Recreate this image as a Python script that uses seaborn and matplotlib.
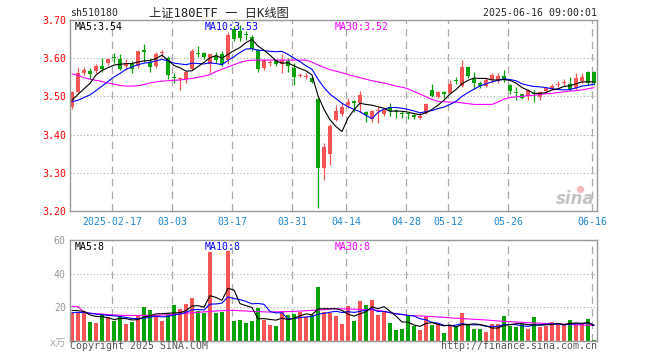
import numpy as np
import pandas as pd
import seaborn as sns
import matplotlib
matplotlib.use("Agg")
import matplotlib.pyplot as plt

# 510180 daily K, 2025-02-06 .. 2025-06-16
opens = [3.473, 3.511, 3.562, 3.566, 3.566, 3.580, 3.587, 3.603, 3.597, 3.580,
         3.586, 3.580, 3.622, 3.589, 3.580, 3.613, 3.600, 3.549, 3.546, 3.545,
         3.571, 3.612, 3.613, 3.585, 3.606, 3.611, 3.595, 3.676, 3.670, 3.662,
         3.655, 3.621, 3.574, 3.587, 3.594, 3.585, 3.593, 3.575, 3.554, 3.552,
         3.547, 3.493, 3.312, 3.350, 3.438, 3.455, 3.477, 3.488, 3.482, 3.460,
         3.440, 3.461, 3.455, 3.473, 3.461, 3.457, 3.456, 3.451, 3.443, 3.456,
         3.517, 3.498, 3.511, 3.510, 3.542, 3.527, 3.578, 3.545, 3.535, 3.528,
         3.543, 3.540, 3.554, 3.530, 3.511, 3.505, 3.502, 3.507, 3.499, 3.514,
         3.519, 3.531, 3.535, 3.532, 3.521, 3.540, 3.565, 3.565]
highs = [3.515, 3.578, 3.578, 3.574, 3.585, 3.600, 3.600, 3.613, 3.612, 3.597,
         3.592, 3.622, 3.637, 3.600, 3.615, 3.621, 3.606, 3.560, 3.552, 3.566,
         3.624, 3.632, 3.615, 3.612, 3.617, 3.620, 3.669, 3.684, 3.687, 3.670,
         3.660, 3.625, 3.598, 3.596, 3.598, 3.611, 3.600, 3.587, 3.562, 3.560,
         3.550, 3.495, 3.378, 3.428, 3.478, 3.482, 3.495, 3.490, 3.515, 3.462,
         3.464, 3.473, 3.470, 3.482, 3.466, 3.462, 3.460, 3.455, 3.458, 3.482,
         3.532, 3.515, 3.514, 3.543, 3.552, 3.595, 3.580, 3.565, 3.540, 3.548,
         3.560, 3.560, 3.570, 3.532, 3.525, 3.507, 3.520, 3.517, 3.515, 3.525,
         3.532, 3.540, 3.545, 3.550, 3.560, 3.560, 3.567, 3.567]
lows = [3.466, 3.508, 3.556, 3.546, 3.560, 3.563, 3.583, 3.587, 3.568, 3.569,
        3.560, 3.575, 3.591, 3.565, 3.575, 3.604, 3.546, 3.535, 3.517, 3.536,
        3.568, 3.603, 3.598, 3.560, 3.588, 3.580, 3.585, 3.645, 3.645, 3.648,
        3.620, 3.565, 3.570, 3.579, 3.580, 3.562, 3.565, 3.530, 3.550, 3.545,
        3.535, 3.207, 3.281, 3.320, 3.436, 3.450, 3.470, 3.460, 3.460, 3.434,
        3.432, 3.431, 3.450, 3.449, 3.444, 3.444, 3.440, 3.440, 3.440, 3.453,
        3.498, 3.495, 3.495, 3.508, 3.532, 3.524, 3.548, 3.520, 3.522, 3.525,
        3.535, 3.535, 3.538, 3.505, 3.491, 3.492, 3.490, 3.486, 3.490, 3.511,
        3.517, 3.525, 3.528, 3.515, 3.518, 3.536, 3.530, 3.530]
closes = [3.511, 3.560, 3.570, 3.558, 3.580, 3.571, 3.598, 3.601, 3.572, 3.586,
          3.573, 3.619, 3.615, 3.578, 3.612, 3.615, 3.555, 3.547, 3.548, 3.564,
          3.619, 3.610, 3.602, 3.610, 3.594, 3.585, 3.660, 3.650, 3.652, 3.660,
          3.625, 3.572, 3.594, 3.589, 3.585, 3.594, 3.580, 3.550, 3.557, 3.554,
          3.539, 3.312, 3.368, 3.423, 3.463, 3.473, 3.486, 3.482, 3.504, 3.451,
          3.462, 3.464, 3.464, 3.463, 3.459, 3.455, 3.454, 3.445, 3.449, 3.480,
          3.501, 3.512, 3.506, 3.532, 3.540, 3.577, 3.554, 3.536, 3.527, 3.543,
          3.556, 3.553, 3.543, 3.514, 3.509, 3.495, 3.518, 3.505, 3.511, 3.521,
          3.528, 3.533, 3.537, 3.519, 3.549, 3.552, 3.535, 3.535]
volumes = [16.8, 16.8, 17.8, 11.3, 10.5, 15.6, 14.3, 11.9, 14.9, 9.9,
           11.3, 15.6, 20.0, 18.2, 15.6, 11.7, 16.8, 21.2, 18.8, 21.8,
           25.5, 17.8, 16.8, 52.7, 16.6, 17.2, 53.3, 11.7, 12.3, 10.7,
           11.7, 19.6, 12.3, 9.7, 8.9, 17.6, 15.2, 16.2, 17.2, 14.3,
           15.2, 32.1, 17.2, 16.8, 14.9, 9.9, 20.6, 11.7, 23.6, 21.2,
           24.2, 15.2, 17.6, 10.5, 6.3, 6.9, 14.9, 8.9, 6.3, 14.9,
           9.3, 9.9, 4.6, 8.9, 8.9, 16.4, 9.7, 6.9, 6.9, 5.1,
           9.9, 9.9, 14.9, 8.9, 8.1, 9.9, 6.9, 14.1, 8.1, 8.9,
           11.1, 10.5, 9.9, 12.3, 9.9, 9.9, 12.9, 0.8]

ma5 = [3.490, 3.505, 3.520, 3.534, 3.556, 3.568, 3.575, 3.582, 3.584, 3.586,
       3.586, 3.590, 3.593, 3.594, 3.599, 3.608, 3.595, 3.581, 3.575, 3.566,
       3.567, 3.578, 3.589, 3.601, 3.607, 3.600, 3.610, 3.620, 3.628, 3.641,
       3.649, 3.632, 3.621, 3.608, 3.593, 3.587, 3.588, 3.580, 3.573, 3.567,
       3.556, 3.502, 3.466, 3.439, 3.421, 3.408, 3.443, 3.465, 3.482, 3.479,
       3.477, 3.473, 3.469, 3.461, 3.462, 3.461, 3.459, 3.455, 3.452, 3.457,
       3.466, 3.477, 3.490, 3.506, 3.518, 3.533, 3.542, 3.548, 3.547, 3.547,
       3.543, 3.543, 3.544, 3.542, 3.535, 3.523, 3.516, 3.508, 3.508, 3.510,
       3.517, 3.520, 3.526, 3.528, 3.533, 3.538, 3.538, 3.538]
ma10 = [3.486, 3.490, 3.497, 3.504, 3.515, 3.527, 3.539, 3.551, 3.560, 3.571,
        3.577, 3.583, 3.587, 3.589, 3.593, 3.597, 3.593, 3.587, 3.585, 3.583,
        3.587, 3.586, 3.585, 3.588, 3.586, 3.583, 3.594, 3.604, 3.615, 3.624,
        3.625, 3.621, 3.620, 3.618, 3.617, 3.618, 3.610, 3.600, 3.591, 3.580,
        3.571, 3.545, 3.523, 3.506, 3.494, 3.482, 3.473, 3.466, 3.460, 3.450,
        3.442, 3.458, 3.467, 3.471, 3.471, 3.469, 3.466, 3.462, 3.457, 3.460,
        3.463, 3.468, 3.472, 3.479, 3.487, 3.500, 3.510, 3.519, 3.527, 3.533,
        3.538, 3.542, 3.546, 3.544, 3.541, 3.533, 3.529, 3.526, 3.525, 3.523,
        3.520, 3.518, 3.517, 3.518, 3.522, 3.527, 3.529, 3.532]
ma30 = [3.559, 3.555, 3.549, 3.545, 3.542, 3.539, 3.535, 3.532, 3.529, 3.527,
        3.527, 3.528, 3.531, 3.535, 3.538, 3.540, 3.541, 3.542, 3.543, 3.545,
        3.547, 3.550, 3.553, 3.557, 3.565, 3.571, 3.577, 3.583, 3.589, 3.593,
        3.595, 3.595, 3.595, 3.595, 3.595, 3.595, 3.595, 3.595, 3.595, 3.595,
        3.590, 3.582, 3.576, 3.570, 3.566, 3.562, 3.557, 3.553, 3.549, 3.545,
        3.541, 3.538, 3.535, 3.531, 3.527, 3.524, 3.520, 3.513, 3.506, 3.499,
        3.492, 3.487, 3.486, 3.485, 3.485, 3.483, 3.481, 3.479, 3.479, 3.479,
        3.479, 3.485, 3.493, 3.497, 3.499, 3.500, 3.502, 3.503, 3.505, 3.507,
        3.508, 3.510, 3.512, 3.514, 3.515, 3.517, 3.520, 3.523]
vol_ma5 = [18.2, 18.0, 17.6, 15.5, 14.6, 14.4, 13.9, 12.7, 13.4, 13.3,
           12.5, 12.7, 14.3, 15.0, 16.1, 16.2, 16.5, 16.7, 16.8, 18.1,
           20.8, 21.0, 20.1, 26.9, 25.9, 24.2, 31.3, 30.3, 22.2, 21.0,
           19.9, 13.2, 13.3, 12.8, 12.4, 13.6, 12.7, 13.5, 15.0, 16.1,
           15.6, 19.0, 19.2, 19.1, 19.2, 18.2, 15.9, 14.8, 16.1, 17.4,
           20.3, 19.2, 20.4, 17.7, 14.8, 11.3, 11.2, 9.5, 8.7, 10.4,
           10.9, 9.9, 9.0, 9.5, 8.3, 9.7, 9.7, 10.2, 9.8, 9.0,
           7.7, 7.7, 9.3, 9.7, 10.3, 10.3, 9.7, 9.6, 9.4, 9.6,
           9.8, 10.5, 9.7, 10.5, 10.7, 10.5, 11.0, 9.2]
vol_ma10 = [16.8, 17.0, 17.0, 16.5, 16.0, 15.6, 15.2, 15.0, 14.6, 14.0,
            13.4, 13.3, 13.5, 14.2, 14.7, 14.3, 14.6, 15.5, 15.9, 17.1,
            18.5, 18.7, 18.4, 21.9, 22.0, 22.5, 26.2, 25.2, 24.6, 23.5,
            22.1, 22.3, 21.8, 17.5, 16.7, 16.8, 13.0, 13.4, 13.9, 14.3,
            14.6, 15.9, 16.4, 17.1, 17.7, 16.9, 17.4, 17.0, 17.6, 18.3,
            19.2, 17.5, 17.6, 16.9, 16.1, 15.8, 15.2, 14.9, 13.2, 12.6,
            11.1, 10.6, 9.3, 9.1, 9.4, 10.3, 9.8, 9.6, 9.6, 8.7,
            8.7, 8.7, 9.8, 9.8, 9.7, 9.0, 8.7, 9.5, 9.6, 10.0,
            10.1, 10.1, 9.6, 10.0, 10.2, 10.2, 10.8, 9.4]
vol_ma30 = [20.6, 20.4, 17.0, 16.5, 16.2, 16.0, 15.7, 15.5, 15.3, 15.2,
            15.2, 15.2, 15.2, 15.2, 15.2, 15.4, 15.6, 15.9, 16.2, 16.5,
            16.8, 17.0, 17.3, 17.6, 17.8, 18.0, 18.2, 18.2, 18.0, 17.8,
            17.6, 17.5, 17.3, 17.2, 17.3, 17.4, 17.5, 17.6, 17.8, 18.0,
            18.2, 18.4, 18.6, 19.0, 19.2, 19.1, 19.0, 18.9, 18.8, 18.7,
            18.5, 18.2, 17.5, 16.8, 16.2, 15.7, 15.2, 15.0, 14.9, 14.7,
            14.5, 14.3, 14.1, 13.8, 13.5, 13.3, 13.1, 12.9, 12.7, 12.5,
            12.2, 11.9, 11.7, 11.5, 11.3, 11.1, 10.9, 10.7, 10.6, 10.4,
            10.3, 10.1, 10.0, 9.8, 9.6, 9.5, 9.4, 9.3]

date_labels = ["2025-02-17", "03-03", "03-17", "03-31", "04-14",
               "04-28", "05-12", "05-26", "06-16"]
date_days = [7, 17, 27, 37, 46, 56, 63, 73, 87]
price_ticks = [3.20, 3.30, 3.40, 3.50, 3.60, 3.70]
vol_ticks = [20, 40, 60]

df = pd.DataFrame({"open": opens, "high": highs, "low": lows, "close": closes,
                   "vol": volumes, "ma5": ma5, "ma10": ma10, "ma30": ma30,
                   "vma5": vol_ma5, "vma10": vol_ma10, "vma30": vol_ma30})
df["day"] = np.arange(len(df))

RED = "#f65555"
GREEN = "#08a308"
GRID = "#aaaaaa"
MONO = "DejaVu Sans Mono"

sns.set_style("white")
plt.rcParams["font.family"] = [MONO, "Noto Sans CJK SC"]

W, H = 660, 360
fig = plt.figure(figsize=(6.6, 3.6), dpi=100)
ax = fig.add_axes([70 / W, 1 - 211 / H, 527 / W, 191 / H])
ax2 = fig.add_axes([70 / W, 1 - 341 / H, 527 / W, 101 / H])

colors = np.where(df["close"] >= df["open"], RED, GREEN)
grid_x = [d - 0.33 for d in date_days]

# price panel
for p in price_ticks[1:-1]:
    ax.axhline(p, color=GRID, lw=0.8, ls=(0, (1, 2)), zorder=0)
for gx in grid_x:
    ax.axvline(gx, color=GRID, lw=0.9, ls=(0, (6, 4)), zorder=0)

# sina watermark
ax.scatter([(580 - 70) / 527], [(211 - 189) / 191], transform=ax.transAxes,
           s=28, color="#f2baba", zorder=1, lw=0)
ax.text(0.995, 0.065, "sina", transform=ax.transAxes, fontsize=12, color="#c4c4c4",
        ha="right", va="center", style="italic", fontweight="bold",
        family="DejaVu Sans", zorder=1)

ax.vlines(df["day"], df["low"], df["high"], colors=colors, lw=0.9, zorder=2)
body = (df["close"] - df["open"]).abs().clip(lower=0.0026)
ax.bar(df["day"], body, bottom=np.minimum(df["open"], df["close"]),
       width=0.82, color=colors, lw=0, zorder=2)
for col, c in [("ma30", "#ff00ff"), ("ma10", "#0000ff"), ("ma5", "black")]:
    sns.lineplot(data=df, x="day", y=col, ax=ax, color=c, lw=0.8, legend=False, zorder=3)

ax.set_xlim(-0.33, 87.5)
ax.set_ylim(3.2, 3.7)
ax.set_yticks(price_ticks, [f"{p:.2f}" for p in price_ticks])
ax.set_xticks(grid_x, date_labels)
ax.tick_params(axis="y", colors="#ff0000", length=0, pad=3, labelsize=7.1)
ax.tick_params(axis="x", colors="#1e88d2", length=0, pad=4, labelsize=7.1)
ax.set_xlabel("")
ax.set_ylabel("")

ax.text(5 / 527, 0.965, "MA5:3.54", transform=ax.transAxes, fontsize=7.1,
        color="black", va="center")
ax.text(135 / 527, 0.965, "MA10:3.53", transform=ax.transAxes, fontsize=7.1,
        color="#0000ff", va="center")
ax.text(265 / 527, 0.965, "MA30:3.52", transform=ax.transAxes, fontsize=7.1,
        color="#ff00ff", va="center")

# volume panel
for v in vol_ticks[:-1]:
    ax2.axhline(v, color=GRID, lw=0.8, ls=(0, (1, 2)), zorder=0)
for gx in grid_x:
    ax2.axvline(gx, color=GRID, lw=0.9, ls=(0, (6, 4)), zorder=0)
ax2.bar(df["day"], df["vol"], width=0.82, color=colors, lw=0, zorder=2)
for col, c in [("vma30", "#ff00ff"), ("vma10", "#0000ff"), ("vma5", "black")]:
    sns.lineplot(data=df, x="day", y=col, ax=ax2, color=c, lw=0.8, legend=False, zorder=3)
ax2.set_xlim(-0.33, 87.5)
ax2.set_ylim(0, 60)
ax2.set_yticks(vol_ticks, [str(v) for v in vol_ticks])
ax2.set_xticks([])
ax2.tick_params(axis="y", colors="#999999", length=0, pad=3, labelsize=7.1)
ax2.set_xlabel("")
ax2.set_ylabel("")
ax2.text(5 / 527, 0.93, "MA5:8", transform=ax2.transAxes, fontsize=7.1,
         color="black", va="center")
ax2.text(135 / 527, 0.93, "MA10:8", transform=ax2.transAxes, fontsize=7.1,
         color="#0000ff", va="center")
ax2.text(265 / 527, 0.93, "MA30:8", transform=ax2.transAxes, fontsize=7.1,
         color="#ff00ff", va="center")

for a in (ax, ax2):
    for s in a.spines.values():
        s.set_color("#999999")
        s.set_linewidth(1.0)
        s.set_visible(True)

# header and footer text
fig.text(70 / W, 1 - 13 / H, "sh510180", fontsize=7.1, va="center", ha="left")
fig.text(219 / W, 1 - 13 / H, "上证180ETF 一 日K线图", fontsize=8.8, va="center",
         ha="center")
fig.text(597 / W, 1 - 13 / H, "2025-06-16 09:00:01", fontsize=7.1, va="center",
         ha="right")
fig.text(66 / W, 1 - 344 / H, "x万", fontsize=7.5, va="center", ha="right",
         color="#aaaaaa")
fig.text(70 / W, 1 - 346 / H, "Copyright 2025 SINA.COM", fontsize=7.1,
         va="center", ha="left", color="#555555")
fig.text(597 / W, 1 - 346 / H, "http://finance.sina.com.cn", fontsize=7.1,
         va="center", ha="right", color="#555555")

fig.savefig("out.png", dpi=100, facecolor="white")
